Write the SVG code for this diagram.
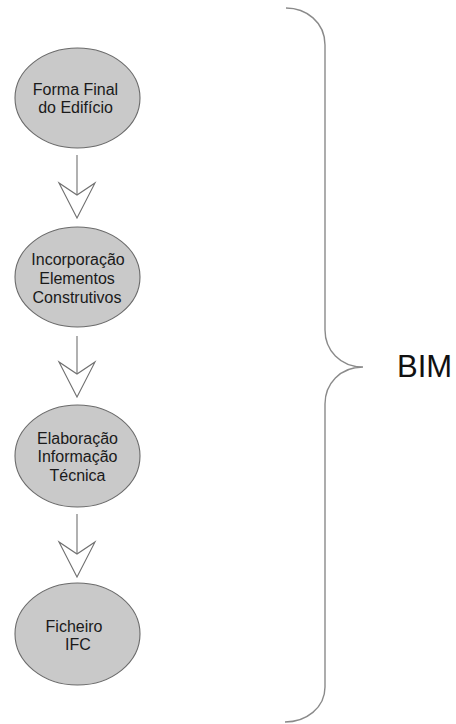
<svg xmlns="http://www.w3.org/2000/svg" width="456" height="724" viewBox="0 0 456 724">
<style>
.node ellipse{fill:#c9c9c9;stroke:#6a6a6a;stroke-width:1.1}
.node text{font-family:"Liberation Sans",Arial,sans-serif;font-size:16px;fill:#1a1a1a;text-anchor:middle}
.conn line{stroke:#707070;stroke-width:1.1}
.conn path{fill:#fff;stroke:#707070;stroke-width:1.1;stroke-linejoin:miter}
.brace{fill:none;stroke:#8a8a8a;stroke-width:1.4}
.label{font-family:"Liberation Sans",Arial,sans-serif;font-size:31px;fill:#111}
</style>
<rect width="456" height="724" fill="#fff"/>
<g id="connectors" class="conn">
<line x1="77" y1="155" x2="77" y2="195"/>
<path d="M59,183 L77,218 L95,183 L77,195 Z"/>
<line x1="77" y1="336" x2="77" y2="374"/>
<path d="M59,362 L77,397 L95,362 L77,374 Z"/>
<line x1="77" y1="514" x2="77" y2="554"/>
<path d="M59,542 L77,577 L95,542 L77,554 Z"/>
</g>
<g id="node1" class="node">
<ellipse cx="77.5" cy="98" rx="62.5" ry="50"/>
<text x="75.5" y="95">Forma Final</text>
<text x="75.5" y="113">do Edifício</text>
</g>
<g id="node2" class="node">
<ellipse cx="77.5" cy="277" rx="62.5" ry="50"/>
<text x="78" y="265">Incorporação</text>
<text x="77" y="284">Elementos</text>
<text x="77" y="302.5">Construtivos</text>
</g>
<g id="node3" class="node">
<ellipse cx="77.5" cy="456" rx="62.5" ry="51"/>
<text x="77.5" y="443.5">Elaboração</text>
<text x="77.5" y="462">Informação</text>
<text x="77.5" y="480.5">Técnica</text>
</g>
<g id="node4" class="node">
<ellipse cx="77.5" cy="634" rx="62.5" ry="51"/>
<text x="74" y="632">Ficheiro</text>
<text x="78" y="650">IFC</text>
</g>
<g id="bim">
<path class="brace" d="M286,8 C306,8 325,22 325,45 L325,330 C325,350 340,367 363,367 C340,367 325,384 325,404 L325,687 C325,708 306,722 285,722"/>
<text class="label" x="397" y="377">BIM</text>
</g>
</svg>
